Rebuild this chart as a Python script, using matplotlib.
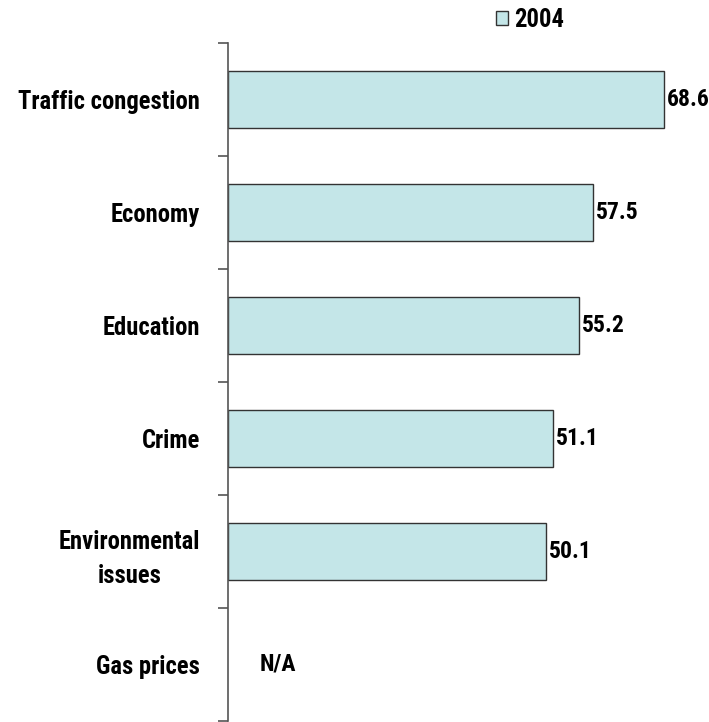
import matplotlib
matplotlib.use("Agg")
import matplotlib.pyplot as plt
from matplotlib.patches import Patch
from matplotlib import font_manager
import numpy as np

categories = ["Traffic congestion", "Economy", "Education", "Crime",
              "Environmental\nissues", "Gas prices"]
values_2004 = [68.6, 57.5, 55.2, 51.1, 50.1, None]
series_name = "2004"

# Prefer a narrow Arial-like face that ships a bold weight
bold_faces = {}
for f in font_manager.fontManager.ttflist:
    wt = f.weight if isinstance(f.weight, int) else 700 if "bold" in str(f.weight) else 400
    if wt >= 700:
        bold_faces.setdefault(f.name, set()).add(f.style)
candidates = ["Liberation Sans Narrow", "Arial Narrow", "Archivo Narrow",
              "Roboto Condensed", "PT Sans Narrow", "Pragati Narrow",
              "Encode Sans Condensed", "Liberation Sans"]
family = next((c for c in candidates if c in bold_faces), "DejaVu Sans")
plt.rcParams["font.family"] = [family, "DejaVu Sans"]
plt.rcParams["font.weight"] = "bold"

W, H = 709, 722
fig = plt.figure(figsize=(W / 100, H / 100), dpi=100)

# size the text so the longest label spans about 182 px
renderer = fig.canvas.get_renderer()
probe = fig.text(0, 0, "Traffic congestion", fontsize=18, fontweight="bold")
w = probe.get_window_extent(renderer).width
probe.remove()
fs = float(np.clip(18 * 182 / w, 12, 20))
fs_val = fs * 0.96

ax_left, ax_top, ax_bottom = 228, 43, 721
ax = fig.add_axes([ax_left / W, 1 - ax_bottom / H, (W - ax_left) / W, (ax_bottom - ax_top) / H])

bar_color = "#C4E6E8"
edge_color = "#333333"
ypos = np.arange(len(categories))
for y, v in zip(ypos, values_2004):
    if v is None:
        ax.text(4.9, y, "N/A", va="center", ha="left", fontsize=fs_val, fontweight="bold")
        continue
    ax.barh(y, v, height=0.5, color=bar_color, edgecolor=edge_color, linewidth=1.0)
    ax.text(v + 0.45, y, f"{v:.1f}", va="center", ha="left", fontsize=fs_val, fontweight="bold")

ax.set_xlim(0, (W - ax_left) / 6.356)
ax.set_ylim(len(categories) - 0.5, -0.5)

for s in ["top", "right", "bottom"]:
    ax.spines[s].set_visible(False)
ax.spines["left"].set_color("#555555")
ax.spines["left"].set_linewidth(1.2)
ax.set_xticks([])

ax.set_yticks(ypos)
ax.set_yticklabels(categories, fontsize=fs, fontweight="bold")
for lab in ax.get_yticklabels():
    lab.set_multialignment("center")
    lab.set_linespacing(1.55)
ax.tick_params(axis="y", which="major", length=0, pad=20)
ax.set_yticks(np.arange(len(categories) + 1) - 0.5, minor=True)
ax.tick_params(axis="y", which="minor", length=7, width=1.2, color="#555555", direction="out")

handle = Patch(facecolor=bar_color, edgecolor=edge_color, linewidth=1.0)
fig.legend([handle], [series_name], loc="center left", bbox_to_anchor=(496 / W, 1 - 20 / H),
           frameon=False, handlelength=0.47, handleheight=0.47,
           handletextpad=0.25, borderpad=0, borderaxespad=0,
           prop={"weight": "bold", "size": fs})

fig.savefig("out.png", dpi=100)
